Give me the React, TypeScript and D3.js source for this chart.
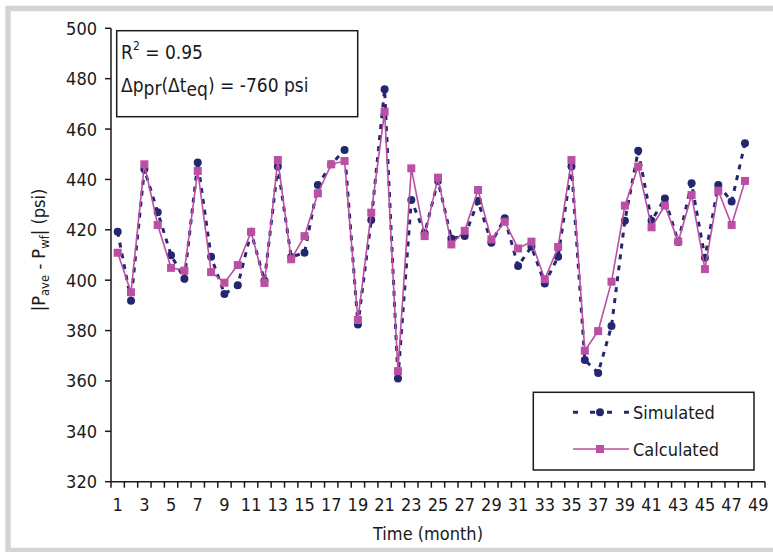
import React from "react";
import * as d3 from "d3";

const months: number[] = Array.from({ length: 49 }, (_, i) => i + 1);
const tickLabelsX: number[] = months.filter((m) => m % 2 === 1);
const tickValuesY: number[] = [320, 340, 360, 380, 400, 420, 440, 460, 480, 500];

const simulated: number[] = [
  419.2, 391.8, 444.0, 427.0, 409.9, 400.6, 446.7, 409.3, 394.5, 398.0,
  419.0, 399.8, 445.1, 409.2, 410.9, 437.8, 446.0, 451.7, 382.4, 423.9,
  475.8, 361.0, 431.8, 418.6, 439.5, 416.6, 417.5, 431.4, 414.9, 424.6,
  405.6, 413.3, 398.7, 409.3, 445.1, 368.3, 363.2, 381.8, 423.6, 451.4,
  423.6, 432.4, 415.2, 438.5, 408.9, 437.8, 431.2, 454.4,
];
const calculated: number[] = [
  410.9, 395.2, 446.0, 421.9, 404.9, 403.8, 443.4, 403.2, 399.0, 406.0,
  419.2, 398.9, 447.7, 408.3, 417.5, 434.5, 446.0, 447.3, 384.2, 426.8,
  466.9, 363.9, 444.4, 417.5, 440.7, 414.2, 419.6, 435.8, 416.2, 423.2,
  412.6, 415.3, 400.4, 413.2, 447.7, 372.0, 379.8, 399.4, 429.6, 445.1,
  421.0, 429.6, 415.3, 433.8, 404.4, 435.5, 421.9, 439.4,
];

const NAVY = "#232770";
const MAGENTA = "#bb4fa3";
const FONT = "'DejaVu Sans Condensed', 'Liberation Sans Narrow', 'DejaVu Sans', sans-serif";

export default function App() {
  const W = 773, H = 552;
  const x0 = 111, x1 = 765, yTop = 28.3, yBot = 481.7;
  const x = d3.scaleBand<number>().domain(months).range([x0, x1]).padding(0);
  const y = d3.scaleLinear().domain([320, 500]).range([yBot, yTop]);
  const cx = (m: number) => (x(m) as number) + x.bandwidth() / 2;

  const line = d3.line<number>().x((_, i) => cx(i + 1)).y((d) => y(d));
  const boundaries = d3.range(0, 50).map((i) => x0 + i * x.bandwidth());

  return (
    <svg width={W} height={H} style={{ position: "absolute", left: 0, top: 0 }} fontFamily={FONT}>
      <rect x={0} y={0} width={W} height={H} fill="#fff" />
      <rect x={8} y={8.5} width={W + 20} height={542} fill="none" stroke="#d4d4d4" strokeWidth={5.5} />

      {/* axes */}
      <line x1={x0} x2={x0} y1={yTop} y2={yBot} stroke="#1a1a1a" strokeWidth={1.5} />
      <line x1={x0} x2={x1} y1={yBot} y2={yBot} stroke="#1a1a1a" strokeWidth={1.5} />
      {tickValuesY.map((v) => (
        <g key={"y" + v}>
          <line x1={x0 - 6} x2={x0} y1={y(v)} y2={y(v)} stroke="#1a1a1a" strokeWidth={1.5} />
          <text x={97} y={y(v) + 6.5} textAnchor="end" fontSize={18} fill="#1a1a1a">{v}</text>
        </g>
      ))}
      {boundaries.map((bx, i) => (
        <line key={"xt" + i} x1={bx} x2={bx} y1={yBot} y2={yBot + 6} stroke="#1a1a1a" strokeWidth={1.5} />
      ))}
      {tickLabelsX.map((m) => (
        <text key={"xl" + m} x={cx(m)} y={511} textAnchor="middle" fontSize={18} fill="#1a1a1a">{m}</text>
      ))}
      <text x={428} y={540} textAnchor="middle" fontSize={18} fill="#1a1a1a">Time (month)</text>
      <text transform="translate(45,250) rotate(-90)" textAnchor="middle" fontSize={18} fill="#1a1a1a">
        |P<tspan fontSize={13} dy={4}>ave</tspan><tspan dy={-4}> - P</tspan><tspan fontSize={13} dy={4}>wf</tspan><tspan dy={-4}>| (psi)</tspan>
      </text>

      {/* annotation box */}
      <rect x={116.7} y={30.7} width={241} height={86} fill="#fff" stroke="#1a1a1a" strokeWidth={1.5} />
      <text x={121} y={59} fontSize={19} fill="#1a1a1a">
        R<tspan fontSize={12} dy={-9}>2</tspan><tspan dy={9}> = 0.95</tspan>
      </text>
      <text x={121} y={92} fontSize={19} fill="#1a1a1a">
        Δp<tspan dy={3}>pr</tspan><tspan dy={-3}>(Δt</tspan><tspan dy={4}>eq</tspan><tspan dy={-4}>) = -760 psi</tspan>
      </text>

      {/* simulated */}
      <path d={line(simulated) || ""} fill="none" stroke={NAVY} strokeWidth={3} strokeDasharray="5,6" />
      {simulated.map((v, i) => (
        <circle key={"s" + i} cx={cx(i + 1)} cy={y(v)} r={4} fill={NAVY} />
      ))}
      {/* calculated */}
      <path d={line(calculated) || ""} fill="none" stroke={MAGENTA} strokeWidth={1.6} />
      {calculated.map((v, i) => (
        <rect key={"c" + i} x={cx(i + 1) - 4} y={y(v) - 4} width={8} height={8} fill={MAGENTA} />
      ))}

      {/* legend */}
      <rect x={533.3} y={392.3} width={220.7} height={77.7} fill="#fff" stroke="#1a1a1a" strokeWidth={1.5} />
      <line x1={573} x2={629} y1={412.3} y2={412.3} stroke={NAVY} strokeWidth={3} strokeDasharray="5,12" />
      <circle cx={600} cy={412.3} r={4} fill={NAVY} />
      <text x={633} y={418.5} fontSize={18} fill="#1a1a1a">Simulated</text>
      <line x1={573} x2={629} y1={449} y2={449} stroke={MAGENTA} strokeWidth={1.6} />
      <rect x={596} y={445} width={8} height={8} fill={MAGENTA} />
      <text x={633} y={455.5} fontSize={18} fill="#1a1a1a">Calculated</text>
    </svg>
  );
}
